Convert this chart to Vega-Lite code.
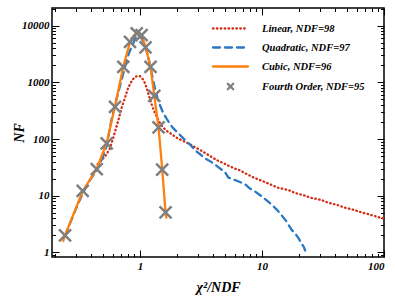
{
  "$schema": "https://vega.github.io/schema/vega-lite/v6.json",
  "width": 332,
  "height": 249,
  "autosize": "none",
  "padding": {"left": 52, "top": 8, "right": 11, "bottom": 39},
  "background": "white",
  "config": {
    "view": {"stroke": "black", "strokeWidth": 1.5},
    "axis": {
      "domain": false,
      "grid": false,
      "labelFont": "Liberation Serif",
      "labelFontStyle": "italic",
      "labelFontWeight": "bold",
      "labelFontSize": 11,
      "labelColor": "black",
      "titleFont": "Liberation Serif",
      "titleFontStyle": "italic",
      "titleFontWeight": "bold",
      "titleFontSize": 14,
      "titleColor": "black",
      "tickColor": "black",
      "tickWidth": 1,
      "labelOverlap": false
    },
    "legend": {
      "labelFont": "Liberation Serif",
      "labelFontStyle": "italic",
      "labelFontWeight": "bold",
      "labelFontSize": 10.5,
      "labelColor": "black"
    }
  },
  "data": {
    "values": [
      {"s": "Linear, NDF=98", "x": 0.45, "y": 36},
      {"s": "Linear, NDF=98", "x": 0.52, "y": 50},
      {"s": "Linear, NDF=98", "x": 0.567, "y": 68},
      {"s": "Linear, NDF=98", "x": 0.624, "y": 135},
      {"s": "Linear, NDF=98", "x": 0.67, "y": 230},
      {"s": "Linear, NDF=98", "x": 0.708, "y": 360},
      {"s": "Linear, NDF=98", "x": 0.75, "y": 520},
      {"s": "Linear, NDF=98", "x": 0.8, "y": 800},
      {"s": "Linear, NDF=98", "x": 0.86, "y": 1080},
      {"s": "Linear, NDF=98", "x": 0.91, "y": 1250},
      {"s": "Linear, NDF=98", "x": 0.97, "y": 1300},
      {"s": "Linear, NDF=98", "x": 1.0, "y": 1290},
      {"s": "Linear, NDF=98", "x": 1.05, "y": 1150},
      {"s": "Linear, NDF=98", "x": 1.1, "y": 960},
      {"s": "Linear, NDF=98", "x": 1.15, "y": 720},
      {"s": "Linear, NDF=98", "x": 1.21, "y": 500},
      {"s": "Linear, NDF=98", "x": 1.27, "y": 360},
      {"s": "Linear, NDF=98", "x": 1.33, "y": 285},
      {"s": "Linear, NDF=98", "x": 1.4, "y": 225},
      {"s": "Linear, NDF=98", "x": 1.46, "y": 190},
      {"s": "Linear, NDF=98", "x": 1.55, "y": 160},
      {"s": "Linear, NDF=98", "x": 1.65, "y": 140},
      {"s": "Linear, NDF=98", "x": 1.82, "y": 122},
      {"s": "Linear, NDF=98", "x": 2.0, "y": 105},
      {"s": "Linear, NDF=98", "x": 2.34, "y": 89},
      {"s": "Linear, NDF=98", "x": 2.6, "y": 80},
      {"s": "Linear, NDF=98", "x": 2.82, "y": 72},
      {"s": "Linear, NDF=98", "x": 3.2, "y": 62},
      {"s": "Linear, NDF=98", "x": 3.5, "y": 55},
      {"s": "Linear, NDF=98", "x": 3.87, "y": 48},
      {"s": "Linear, NDF=98", "x": 4.3, "y": 42},
      {"s": "Linear, NDF=98", "x": 4.79, "y": 38},
      {"s": "Linear, NDF=98", "x": 5.3, "y": 34},
      {"s": "Linear, NDF=98", "x": 6.0, "y": 30},
      {"s": "Linear, NDF=98", "x": 6.6, "y": 28},
      {"s": "Linear, NDF=98", "x": 7.25, "y": 25},
      {"s": "Linear, NDF=98", "x": 8.0, "y": 22.5},
      {"s": "Linear, NDF=98", "x": 8.7, "y": 20.5},
      {"s": "Linear, NDF=98", "x": 9.9, "y": 18.5},
      {"s": "Linear, NDF=98", "x": 11.2, "y": 16.5},
      {"s": "Linear, NDF=98", "x": 12.4, "y": 15.0},
      {"s": "Linear, NDF=98", "x": 13.6, "y": 13.8},
      {"s": "Linear, NDF=98", "x": 15, "y": 13.2},
      {"s": "Linear, NDF=98", "x": 16.9, "y": 12.3},
      {"s": "Linear, NDF=98", "x": 18.6, "y": 11.2},
      {"s": "Linear, NDF=98", "x": 20.5, "y": 10.6},
      {"s": "Linear, NDF=98", "x": 22.5, "y": 10.0},
      {"s": "Linear, NDF=98", "x": 25, "y": 9.2},
      {"s": "Linear, NDF=98", "x": 28, "y": 8.8},
      {"s": "Linear, NDF=98", "x": 31.7, "y": 8.2},
      {"s": "Linear, NDF=98", "x": 35, "y": 7.5},
      {"s": "Linear, NDF=98", "x": 38, "y": 7.2},
      {"s": "Linear, NDF=98", "x": 42, "y": 6.8},
      {"s": "Linear, NDF=98", "x": 47, "y": 6.2},
      {"s": "Linear, NDF=98", "x": 52, "y": 5.9},
      {"s": "Linear, NDF=98", "x": 57, "y": 5.6},
      {"s": "Linear, NDF=98", "x": 62, "y": 5.3},
      {"s": "Linear, NDF=98", "x": 67, "y": 5.0},
      {"s": "Linear, NDF=98", "x": 73, "y": 4.8},
      {"s": "Linear, NDF=98", "x": 80, "y": 4.5},
      {"s": "Linear, NDF=98", "x": 86, "y": 4.3},
      {"s": "Linear, NDF=98", "x": 93, "y": 4.1},
      {"s": "Linear, NDF=98", "x": 100, "y": 4.0},
      {"s": "Quadratic, NDF=97", "x": 0.243, "y": 2.0},
      {"s": "Quadratic, NDF=97", "x": 0.3, "y": 6},
      {"s": "Quadratic, NDF=97", "x": 0.339, "y": 11},
      {"s": "Quadratic, NDF=97", "x": 0.39, "y": 19},
      {"s": "Quadratic, NDF=97", "x": 0.442, "y": 28},
      {"s": "Quadratic, NDF=97", "x": 0.49, "y": 45},
      {"s": "Quadratic, NDF=97", "x": 0.533, "y": 75},
      {"s": "Quadratic, NDF=97", "x": 0.586, "y": 230},
      {"s": "Quadratic, NDF=97", "x": 0.65, "y": 560},
      {"s": "Quadratic, NDF=97", "x": 0.73, "y": 1450},
      {"s": "Quadratic, NDF=97", "x": 0.8, "y": 3000},
      {"s": "Quadratic, NDF=97", "x": 0.855, "y": 4300},
      {"s": "Quadratic, NDF=97", "x": 0.92, "y": 6000},
      {"s": "Quadratic, NDF=97", "x": 0.97, "y": 6600},
      {"s": "Quadratic, NDF=97", "x": 1.02, "y": 6300},
      {"s": "Quadratic, NDF=97", "x": 1.08, "y": 4800},
      {"s": "Quadratic, NDF=97", "x": 1.13, "y": 3600},
      {"s": "Quadratic, NDF=97", "x": 1.17, "y": 2800},
      {"s": "Quadratic, NDF=97", "x": 1.25, "y": 1400},
      {"s": "Quadratic, NDF=97", "x": 1.33, "y": 760},
      {"s": "Quadratic, NDF=97", "x": 1.4, "y": 500},
      {"s": "Quadratic, NDF=97", "x": 1.46, "y": 390},
      {"s": "Quadratic, NDF=97", "x": 1.55, "y": 290},
      {"s": "Quadratic, NDF=97", "x": 1.65, "y": 230},
      {"s": "Quadratic, NDF=97", "x": 1.75, "y": 190},
      {"s": "Quadratic, NDF=97", "x": 1.85, "y": 160},
      {"s": "Quadratic, NDF=97", "x": 2.0, "y": 135},
      {"s": "Quadratic, NDF=97", "x": 2.13, "y": 118},
      {"s": "Quadratic, NDF=97", "x": 2.35, "y": 95},
      {"s": "Quadratic, NDF=97", "x": 2.57, "y": 80},
      {"s": "Quadratic, NDF=97", "x": 2.82, "y": 64},
      {"s": "Quadratic, NDF=97", "x": 3.1, "y": 54},
      {"s": "Quadratic, NDF=97", "x": 3.4, "y": 46},
      {"s": "Quadratic, NDF=97", "x": 3.8, "y": 40},
      {"s": "Quadratic, NDF=97", "x": 4.3, "y": 33},
      {"s": "Quadratic, NDF=97", "x": 4.97, "y": 26},
      {"s": "Quadratic, NDF=97", "x": 5.3, "y": 21},
      {"s": "Quadratic, NDF=97", "x": 5.8, "y": 19.5},
      {"s": "Quadratic, NDF=97", "x": 6.6, "y": 17.5},
      {"s": "Quadratic, NDF=97", "x": 7.25, "y": 16.0},
      {"s": "Quadratic, NDF=97", "x": 7.97, "y": 13.4},
      {"s": "Quadratic, NDF=97", "x": 8.8, "y": 11.8},
      {"s": "Quadratic, NDF=97", "x": 9.9, "y": 9.8},
      {"s": "Quadratic, NDF=97", "x": 11, "y": 8.2},
      {"s": "Quadratic, NDF=97", "x": 12, "y": 7.0},
      {"s": "Quadratic, NDF=97", "x": 13.2, "y": 5.7},
      {"s": "Quadratic, NDF=97", "x": 14.5, "y": 4.5},
      {"s": "Quadratic, NDF=97", "x": 15.9, "y": 3.5},
      {"s": "Quadratic, NDF=97", "x": 17.5, "y": 2.5},
      {"s": "Quadratic, NDF=97", "x": 19.2, "y": 2.0},
      {"s": "Quadratic, NDF=97", "x": 20.2, "y": 1.7},
      {"s": "Quadratic, NDF=97", "x": 21, "y": 1.45},
      {"s": "Quadratic, NDF=97", "x": 22, "y": 1.25},
      {"s": "Quadratic, NDF=97", "x": 22.6, "y": 1.08},
      {"s": "Cubic, NDF=96", "x": 0.235, "y": 1.6},
      {"s": "Cubic, NDF=96", "x": 0.243, "y": 2.0},
      {"s": "Cubic, NDF=96", "x": 0.339, "y": 12},
      {"s": "Cubic, NDF=96", "x": 0.442, "y": 30},
      {"s": "Cubic, NDF=96", "x": 0.533, "y": 85},
      {"s": "Cubic, NDF=96", "x": 0.624, "y": 380},
      {"s": "Cubic, NDF=96", "x": 0.73, "y": 1900},
      {"s": "Cubic, NDF=96", "x": 0.828, "y": 5100},
      {"s": "Cubic, NDF=96", "x": 0.9, "y": 6900},
      {"s": "Cubic, NDF=96", "x": 0.96, "y": 7500},
      {"s": "Cubic, NDF=96", "x": 1.02, "y": 7100},
      {"s": "Cubic, NDF=96", "x": 1.11, "y": 4300},
      {"s": "Cubic, NDF=96", "x": 1.22, "y": 1850},
      {"s": "Cubic, NDF=96", "x": 1.31, "y": 580},
      {"s": "Cubic, NDF=96", "x": 1.42, "y": 160},
      {"s": "Cubic, NDF=96", "x": 1.52, "y": 30},
      {"s": "Cubic, NDF=96", "x": 1.62, "y": 5},
      {"s": "Cubic, NDF=96", "x": 1.645, "y": 4.1},
      {"s": "Fourth Order, NDF=95", "x": 0.243, "y": 2.0},
      {"s": "Fourth Order, NDF=95", "x": 0.339, "y": 12.2},
      {"s": "Fourth Order, NDF=95", "x": 0.442, "y": 29.5},
      {"s": "Fourth Order, NDF=95", "x": 0.533, "y": 84},
      {"s": "Fourth Order, NDF=95", "x": 0.624, "y": 370},
      {"s": "Fourth Order, NDF=95", "x": 0.73, "y": 1880},
      {"s": "Fourth Order, NDF=95", "x": 0.828, "y": 5200},
      {"s": "Fourth Order, NDF=95", "x": 0.94, "y": 7300},
      {"s": "Fourth Order, NDF=95", "x": 1.03, "y": 6800},
      {"s": "Fourth Order, NDF=95", "x": 1.11, "y": 4130},
      {"s": "Fourth Order, NDF=95", "x": 1.22, "y": 1880},
      {"s": "Fourth Order, NDF=95", "x": 1.31, "y": 580},
      {"s": "Fourth Order, NDF=95", "x": 1.42, "y": 160},
      {"s": "Fourth Order, NDF=95", "x": 1.52, "y": 29},
      {"s": "Fourth Order, NDF=95", "x": 1.62, "y": 5.1}
    ]
  },
  "layer": [
    {
      "transform": [{"filter": "datum.s !== 'Fourth Order, NDF=95'"}],
      "mark": {"type": "line", "strokeWidth": 2.3, "strokeCap": "round", "clip": true},
      "encoding": {
        "x": {
          "field": "x", "type": "quantitative",
          "scale": {"type": "log", "domain": [0.19, 100], "nice": false},
          "axis": {
            "orient": "bottom",
            "title": "χ²/NDF",
            "titlePadding": 6,
            "values": [0.2,0.3,0.4,0.5,0.6,0.7,0.8,0.9,1,2,3,4,5,6,7,8,9,10,20,30,40,50,60,70,80,90,100],
            "labelExpr": "datum.value == 1 ? '1' : datum.value == 10 ? '10' : datum.value == 100 ? '100' : ''",
            "tickSize": {"condition": {"test": "datum.value == 1 || datum.value == 10 || datum.value == 100", "value": -7}, "value": -3.5},
            "labelPadding": 10
          }
        },
        "y": {
          "field": "y", "type": "quantitative",
          "scale": {"type": "log", "domain": [0.83, 20500], "nice": false},
          "axis": {
            "orient": "left",
            "title": "NF",
            "titlePadding": -5,
            "values": [0.9,1,2,3,4,5,6,7,8,9,10,20,30,40,50,60,70,80,90,100,200,300,400,500,600,700,800,900,1000,2000,3000,4000,5000,6000,7000,8000,9000,10000,20000],
            "labelExpr": "datum.value == 1 ? '1' : datum.value == 10 ? '10' : datum.value == 100 ? '100' : datum.value == 1000 ? '1000' : datum.value == 10000 ? '10000' : ''",
            "tickSize": {"condition": {"test": "datum.value == 1 || datum.value == 10 || datum.value == 100 || datum.value == 1000 || datum.value == 10000", "value": -7}, "value": -3.5},
            "labelPadding": 10
          }
        },
        "color": {
          "field": "s", "type": "nominal",
          "scale": {
            "domain": ["Linear, NDF=98", "Quadratic, NDF=97", "Cubic, NDF=96", "Fourth Order, NDF=95"],
            "range": ["#d42a14", "#2a78c2", "#ff7f0e", "#7f7f7f"]
          },
          "legend": {
            "orient": "none", "legendX": 172, "legendY": 14, "title": null, "padding": 0,
            "symbolSize": 100, "symbolStrokeWidth": 2.3, "labelOffset": 25, "rowPadding": 7,
            "encode": {
              "symbols": {
                "update": {
                  "shape": {"signal": "datum.value === 'Fourth Order, NDF=95' ? 'M-0.55,-0.55L0.55,0.55M-0.55,0.55L0.55,-0.55' : 'M-3.5,0L3.5,0'"},
                  "strokeCap": {"value": "round"},
                  "opacity": {"value": 1}
                }
              }
            }
          }
        },
        "strokeDash": {
          "field": "s", "type": "nominal",
          "scale": {
            "domain": ["Linear, NDF=98", "Quadratic, NDF=97", "Cubic, NDF=96", "Fourth Order, NDF=95"],
            "range": [[0.5, 3.4], [7, 5], [1, 0], [1, 0]]
          },
          "legend": {
            "orient": "none", "legendX": 172, "legendY": 14, "title": null, "padding": 0,
            "symbolSize": 100, "symbolStrokeWidth": 2.3, "labelOffset": 25, "rowPadding": 7
          }
        }
      }
    },
    {
      "transform": [{"filter": "datum.s === 'Fourth Order, NDF=95'"}],
      "mark": {"type": "point", "shape": "M-1,-1L1,1M-1,1L1,-1", "size": 144, "strokeWidth": 2.5, "filled": false, "opacity": 1},
      "encoding": {
        "x": {"field": "x", "type": "quantitative", "axis": null},
        "y": {"field": "y", "type": "quantitative", "axis": null},
        "color": {
          "field": "s", "type": "nominal",
          "legend": {
            "orient": "none", "legendX": 172, "legendY": 14, "title": null, "padding": 0,
            "symbolSize": 100, "symbolStrokeWidth": 2.3, "labelOffset": 25, "rowPadding": 7
          }
        }
      }
    },
    {
      "mark": {"type": "line", "opacity": 0},
      "encoding": {
        "x": {
          "field": "x", "type": "quantitative",
          "axis": {
            "orient": "top", "title": null, "labels": false,
            "values": [0.2,0.3,0.4,0.5,0.6,0.7,0.8,0.9,1,2,3,4,5,6,7,8,9,10,20,30,40,50,60,70,80,90,100],
            "tickSize": {"condition": {"test": "datum.value == 1 || datum.value == 10 || datum.value == 100", "value": -7}, "value": -3.5}
          }
        },
        "y": {
          "field": "y", "type": "quantitative",
          "axis": {
            "orient": "right", "title": null, "labels": false,
            "values": [0.9,1,2,3,4,5,6,7,8,9,10,20,30,40,50,60,70,80,90,100,200,300,400,500,600,700,800,900,1000,2000,3000,4000,5000,6000,7000,8000,9000,10000,20000],
            "tickSize": {"condition": {"test": "datum.value == 1 || datum.value == 10 || datum.value == 100 || datum.value == 1000 || datum.value == 10000", "value": -7}, "value": -3.5}
          }
        },
        "detail": {"field": "s", "type": "nominal"}
      }
    }
  ],
  "resolve": {"axis": {"x": "independent", "y": "independent"}}
}
